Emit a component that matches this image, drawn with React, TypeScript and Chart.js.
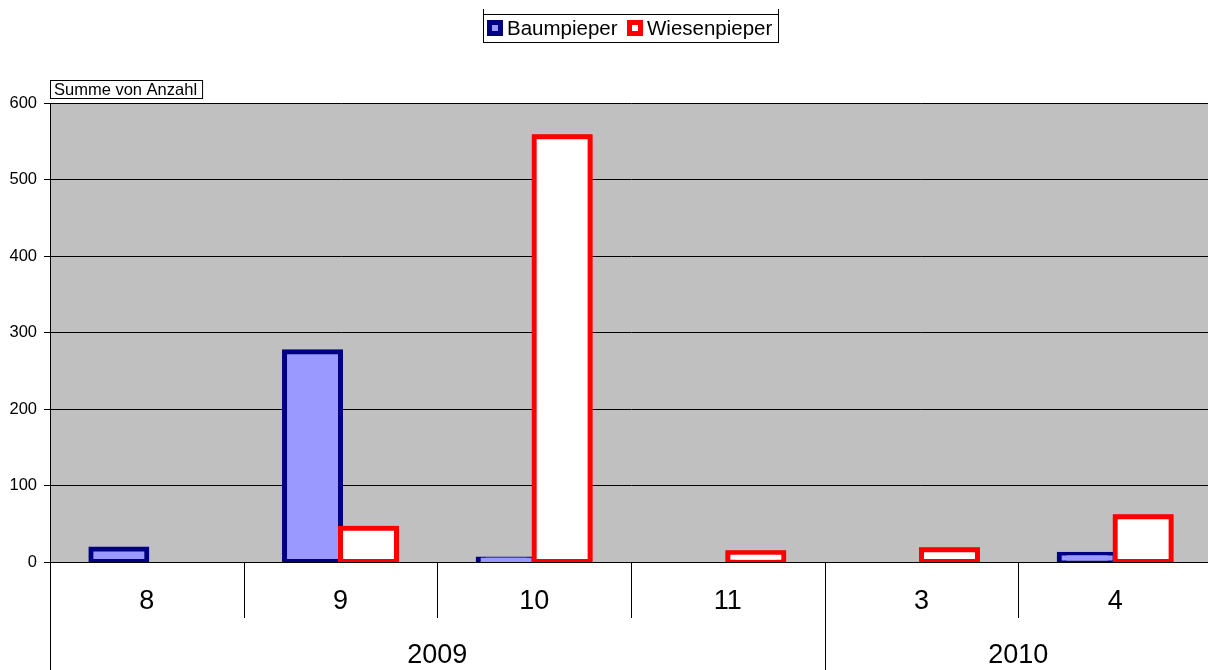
import React, { useEffect, useRef } from 'react';
import { Chart, registerables } from 'chart.js';

Chart.register(...registerables);

const months = ['8', '9', '10', '11', '3', '4'];
const years = ['2009', '2010'];
const yearSpans = [4, 2];
const baumpieper: (number | null)[] = [17, 275, 4, null, null, 10];
const wiesenpieper: (number | null)[] = [null, 44, 556, 12, 16, 59];
const yMax = 600;
const yStep = 100;
const seriesNames = ['Baumpieper', 'Wiesenpieper'];
const fieldLabel = 'Summe von Anzahl';

const FONT = '"Liberation Sans", Arial, sans-serif';

const decorPlugin = {
  id: 'decor',
  beforeDraw(chart: any) {
    const { ctx, chartArea } = chart;
    ctx.save();
    ctx.fillStyle = '#ffffff';
    ctx.fillRect(0, 0, chart.width, chart.height);
    ctx.fillStyle = '#c0c0c0';
    ctx.fillRect(chartArea.left, chartArea.top, chartArea.right - chartArea.left, chartArea.bottom - chartArea.top);
    ctx.restore();
  },
  afterDatasetsDraw(chart: any) {
    // draw the second series on top of the first (Excel stacking of overlapping bars)
    const { ctx, chartArea } = chart;
    ctx.save();
    ctx.beginPath();
    ctx.rect(chartArea.left, chartArea.top, chartArea.right - chartArea.left, chartArea.bottom - chartArea.top);
    ctx.clip();
    const meta = chart.getDatasetMeta(1);
    meta.data.forEach((el: any, i: number) => {
      if (wiesenpieper[i] != null) el.draw(ctx);
    });
    ctx.restore();
  },
  afterDraw(chart: any) {
    const { ctx, chartArea } = chart;
    const xs = chart.scales.x;
    const H = chart.height;
    ctx.save();
    ctx.strokeStyle = '#000000';
    ctx.lineWidth = 1;
    const by = Math.round(chartArea.bottom) + 0.5;
    ctx.beginPath();
    ctx.moveTo(chartArea.left, by);
    ctx.lineTo(chartArea.right, by);
    ctx.stroke();
    const lx = Math.round(chartArea.left) + 0.5;
    ctx.beginPath();
    ctx.moveTo(lx, chartArea.top);
    ctx.lineTo(lx, H);
    ctx.stroke();
    const n = months.length;
    const yearEnds: number[] = [];
    let acc = 0;
    yearSpans.forEach((s) => { acc += s; yearEnds.push(acc); });
    const boundary = (i: number) => {
      if (i <= 0) return chartArea.left;
      if (i >= n) return chartArea.right;
      return (xs.getPixelForValue(i - 1) + xs.getPixelForValue(i)) / 2;
    };
    for (let i = 1; i < n; i++) {
      const bx = Math.round(boundary(i)) + 0.5;
      const isYear = yearEnds.includes(i);
      ctx.beginPath();
      ctx.moveTo(bx, chartArea.bottom);
      ctx.lineTo(bx, isYear ? H : chartArea.bottom + 56);
      ctx.stroke();
    }
    ctx.fillStyle = '#000000';
    ctx.textAlign = 'center';
    ctx.textBaseline = 'middle';
    ctx.font = `27px ${FONT}`;
    months.forEach((m, i) => {
      ctx.fillText(m, xs.getPixelForValue(i), chartArea.bottom + 40);
    });
    let start = 0;
    years.forEach((y, k) => {
      const end = start + yearSpans[k];
      const cx = (boundary(start) + boundary(end)) / 2;
      ctx.fillText(y, cx, chartArea.bottom + 94);
      start = end;
    });

    ctx.font = `16.5px ${FONT}`;
    ctx.textAlign = 'left';
    const fw = ctx.measureText(fieldLabel).width;
    ctx.fillStyle = '#ffffff';
    ctx.fillRect(50.5, 80.5, fw + 9, 18);
    ctx.strokeRect(50.5, 80.5, fw + 9, 18);
    ctx.fillStyle = '#000000';
    ctx.fillText(fieldLabel, 54, 90);

    const lx0 = 483.5, ly0 = 14.5, lw = 295, lh = 28;
    ctx.fillStyle = '#ffffff';
    ctx.fillRect(lx0, ly0, lw, lh);
    ctx.strokeRect(lx0, ly0, lw, lh);
    ctx.beginPath();
    ctx.moveTo(lx0, 9);
    ctx.lineTo(lx0, ly0);
    ctx.moveTo(lx0 + lw, 9);
    ctx.lineTo(lx0 + lw, ly0);
    ctx.stroke();
    const ds = chart.data.datasets;
    const items = [
      { sq: 487, tx: 507 },
      { sq: 627, tx: 647 },
    ];
    ctx.font = `20.5px ${FONT}`;
    items.forEach((it, i) => {
      ctx.fillStyle = ds[i].borderColor;
      ctx.fillRect(it.sq, 20, 16, 16);
      ctx.fillStyle = ds[i].backgroundColor;
      ctx.fillRect(it.sq + 5, 25, 6, 6);
      ctx.fillStyle = '#000000';
      ctx.fillText(seriesNames[i], it.tx, 29);
    });
    ctx.restore();
  },
};

export default function App() {
  const ref = useRef<HTMLCanvasElement>(null);
  useEffect(() => {
    if (!ref.current) return;
    const chart = new Chart(ref.current, {
      type: 'bar',
      data: {
        labels: months,
        datasets: [
          {
            label: seriesNames[0],
            data: baumpieper,
            backgroundColor: '#9999ff',
            borderColor: '#000080',
            borderWidth: 5,
            borderSkipped: false,
            inflateAmount: 2.5,
            clip: 0,
          } as any,
          {
            label: seriesNames[1],
            data: wiesenpieper,
            backgroundColor: '#ffffff',
            borderColor: '#ff0000',
            borderWidth: 5,
            borderSkipped: false,
            inflateAmount: 2.5,
            clip: 0,
          } as any,
        ],
      },
      options: {
        responsive: false,
        animation: false,
        devicePixelRatio: 1,
        layout: { padding: { top: 103, left: 0, right: 2, bottom: 108 } },
        datasets: { bar: { categoryPercentage: 0.578, barPercentage: 1 } },
        plugins: {
          legend: { display: false },
          tooltip: { enabled: false },
          title: { display: false },
        },
        scales: {
          x: { display: false },
          y: {
            min: 0,
            max: yMax,
            ticks: {
              stepSize: yStep,
              color: '#000000',
              font: { family: FONT, size: 16.5 },
              padding: 7,
            },
            grid: {
              color: '#000000',
              lineWidth: 1,
              drawTicks: true,
              tickLength: 6,
            },
            border: { display: true, color: '#000000', width: 1 },
            afterFit: (s: any) => { s.width = 50; },
          },
        },
      },
      plugins: [decorPlugin],
    });
    return () => chart.destroy();
  }, []);
  return (
    <div style={{ position: 'fixed', left: 0, top: 0, width: 1208, height: 670, overflow: 'hidden', background: '#fff' }}>
      <canvas ref={ref} width={1214} height={670} style={{ display: 'block' }} />
    </div>
  );
}
